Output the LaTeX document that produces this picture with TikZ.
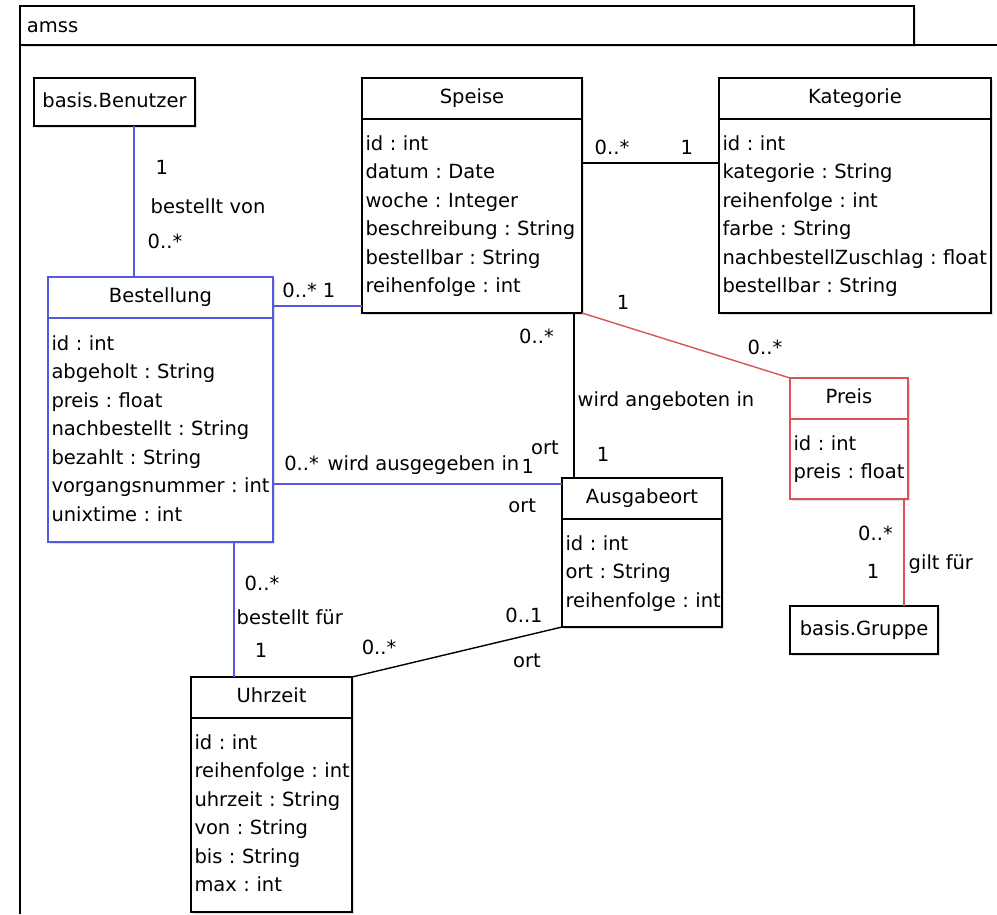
\documentclass[tikz,border=0pt]{standalone}
\usepackage{fontspec}
\setmainfont{DejaVu Sans}
\usetikzlibrary{positioning,shadows}
\definecolor{assocblue}{RGB}{88,88,222}
\definecolor{assocred}{RGB}{218,84,84}

\begin{document}
\begin{tikzpicture}[x=1pt,y=-1pt,line width=1.4pt,
                    every node/.style={font=\fontsize{19.5pt}{28.5pt}\selectfont\frenchspacing}]
  \tikzset{cls/.style={draw,fill=white,outer sep=0pt,line width=1.6pt,
             drop shadow={shadow xshift=2pt,shadow yshift=-2pt,opacity=.25}},
           head/.style={cls,anchor=north west,minimum height=41pt,text height=14pt,text depth=5pt},
           single/.style={cls,anchor=north west,minimum height=48pt,text height=14pt,text depth=4pt},
           attr/.style={cls,inner xsep=3.5pt,inner ysep=0pt,align=left,
             execute at begin node=\strut,execute at end node=\strut},
           lbl/.style={inner sep=0pt,text height=14pt,text depth=0pt},
           blueline/.style={draw=assocblue},
           redline/.style={draw=assocred}}

  \useasboundingbox (0,0) rectangle (997,914);

  \node[draw,fill=white,anchor=north west,outer sep=0pt,line width=1.6pt,minimum height=39pt,
        inner xsep=7pt,text width=880pt,text height=14pt,text depth=0pt,align=left,
        drop shadow={shadow xshift=2pt,shadow yshift=-2pt,opacity=.25}] (amss) at (20,6) {amss};
  \coordinate (topend) at (997,45);
  \coordinate (leftend) at (20,914);
  \draw[line width=1.6pt] (topend) -- (amss.south west) -- (leftend);

  \node[single,minimum width=161pt] (Benutzer) at (34,78) {basis.Benutzer};

  \node[head,minimum width=220pt] (Speise) at (362,78) {Speise};
  \node[attr,text width=213pt,minimum height=194pt,below=0pt of Speise] (Speise-a)
    {id : int\\datum : Date\\woche : Integer\\beschreibung~:~String\\bestellbar : String\\reihenfolge : int};

  \node[head,minimum width=272pt] (Kategorie) at (719,78) {Kategorie};
  \node[attr,text width=265pt,minimum height=194pt,below=0pt of Kategorie] (Kategorie-a)
    {id : int\\kategorie : String\\reihenfolge : int\\farbe : String\\nachbestellZuschlag~:~float\\bestellbar : String};

  \node[head,draw=assocblue,minimum width=225pt] (Bestellung) at (48,277) {Bestellung};
  \node[attr,draw=assocblue,text width=218pt,minimum height=224pt,below=0pt of Bestellung] (Bestellung-a)
    {id : int\\abgeholt : String\\preis : float\\nachbestellt : String\\bezahlt : String\\vorgangsnummer~:~int\\unixtime : int};

  \node[head,draw=assocred,minimum width=118pt] (Preis) at (790,378) {Preis};
  \node[attr,draw=assocred,text width=111pt,minimum height=80pt,below=0pt of Preis] (Preis-a)
    {id : int\\preis~:~float};

  \node[head,minimum width=160pt] (Ausgabeort) at (562,478) {Ausgabeort};
  \node[attr,text width=153pt,minimum height=108pt,below=0pt of Ausgabeort] (Ausgabeort-a)
    {id : int\\ort : String\\reihenfolge~:~int};

  \node[single,minimum width=148pt] (Gruppe) at (790,606) {basis.Gruppe};

  \node[head,minimum width=161pt] (Uhrzeit) at (191,677) {Uhrzeit};
  \node[attr,text width=154pt,minimum height=194pt,below=0pt of Uhrzeit] (Uhrzeit-a)
    {id : int\\reihenfolge~:~int\\uhrzeit : String\\von : String\\bis : String\\max : int};

  \coordinate (benutzer-b) at ([xshift=19.5pt]Benutzer.south);
  \coordinate (bestellung-s) at ([yshift=-29pt]Bestellung.north east);
  \coordinate (speise-k) at ([yshift=-44pt]Speise-a.north east);
  \coordinate (speise-b) at ([xshift=-8pt]Speise-a.south east);
  \coordinate (bestellung-o) at ([yshift=-166pt]Bestellung-a.north east);
  \coordinate (bestellung-b) at ([xshift=-39pt]Bestellung-a.south east);
  \coordinate (preis-b) at ([xshift=-4pt]Preis-a.south east);

  \path (benutzer-b) edge[blueline]
          node[lbl,pos=.278,anchor=west,xshift=21pt] {1}
          node[lbl,pos=.536,anchor=west,xshift=16pt] {bestellt von}
          node[lbl,pos=.768,anchor=west,xshift=13pt] {0..*} (benutzer-b |- Bestellung.north)
        (bestellung-s) edge[blueline]
          node[lbl,pos=.30,yshift=16pt] {0..*}
          node[lbl,pos=.629,yshift=16pt] {1} (bestellung-s -| Speise-a.west)
        (speise-k) edge
          node[lbl,pos=.219,yshift=16pt] {0..*}
          node[lbl,pos=.766,yshift=16pt] {1} (speise-k -| Kategorie-a.west)
        (Speise-a.south east) edge[redline]
          node[lbl,pos=.166,xshift=6.5pt,yshift=20.8pt] {1}
          node[lbl,pos=.848,xshift=6.6pt,yshift=21.1pt] {0..*} (Preis.north west)
        (speise-b) edge
          node[lbl,pos=.145,xshift=-37.5pt] {0..*}
          node[lbl,pos=.527,anchor=west,xshift=3pt] {wird angeboten in}
          node[lbl,pos=.855,xshift=29pt] {1} (speise-b |- Ausgabeort.north)
        (bestellung-o) edge[blueline]
          node[lbl,pos=.099,yshift=21pt] {0..*}
          node[lbl,pos=.187,anchor=west,yshift=21pt] {wird ausgegeben in}
          node[lbl,pos=.882,yshift=18pt] {1}
          node[lbl,pos=.941,yshift=37pt] {ort}
          node[lbl,pos=.862,yshift=-21pt] {ort} (bestellung-o -| Ausgabeort.west)
        (Ausgabeort-a.south west) edge
          node[lbl,pos=.158,xshift=-4.8pt,yshift=19.9pt] {0..1}
          node[lbl,pos=.196,xshift=6.2pt,yshift=-24pt] {ort}
          node[lbl,pos=.846,xshift=-5.3pt,yshift=22.3pt] {0..*} (Uhrzeit.north east)
        (bestellung-b) edge[blueline]
          node[lbl,pos=.304,xshift=28pt] {0..*}
          node[lbl,pos=.556,anchor=west,xshift=2pt] {bestellt für}
          node[lbl,pos=.807,xshift=27pt] {1} (bestellung-b |- Uhrzeit.north)
        (preis-b) edge[redline]
          node[lbl,pos=.318,xshift=-28.5pt] {0..*}
          node[lbl,pos=.589,anchor=west,xshift=4pt] {gilt für}
          node[lbl,pos=.673,xshift=-31pt] {1} (preis-b |- Gruppe.north);
\end{tikzpicture}
\end{document}
